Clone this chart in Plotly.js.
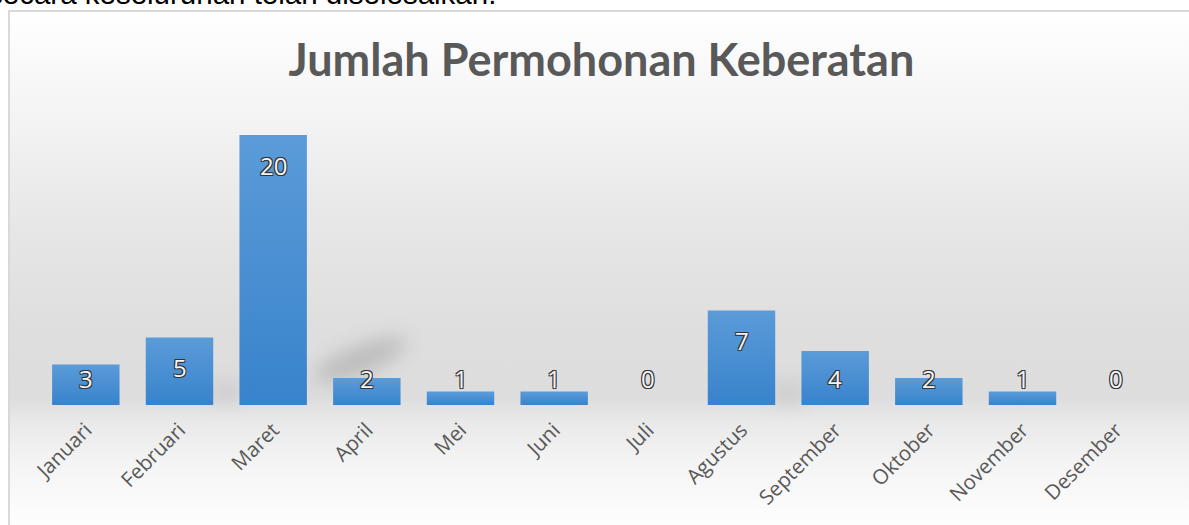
<!DOCTYPE html>
<html>
<head>
<meta charset="utf-8">
<script src="https://cdn.plot.ly/plotly-3.0.1.min.js"></script>
<style>
  html, body { margin: 0; padding: 0; width: 1189px; height: 525px; overflow: hidden; background: #ffffff; }
  #topText {
    position: absolute; left: -12px; top: -21px; white-space: nowrap;
    font-family: "Liberation Sans", Arial, sans-serif; font-size: 29.5px; line-height: 29px; color: #000;
  }
  #frame {
    position: absolute; left: 8px; top: 10px; width: 1200px; height: 530px;
    box-sizing: border-box; border-top: 2px solid #d9d9d9; border-left: 2px solid #d9d9d9;
    background: linear-gradient(to bottom, #ffffff 0px, #f3f3f3 110px, #e6e6e6 220px, #dedede 320px, #dddddd 385px, #e9e9e9 410px, #f4f4f4 450px, #fcfcfc 500px, #ffffff 530px);
    overflow: hidden;
  }
  .shadow { position: absolute; border-radius: 50%; filter: blur(10px); }
  #chart { position: absolute; left: 0; top: 0; width: 1179px; height: 513px; }
</style>
</head>
<body>
<svg width="0" height="0" style="position:absolute">
  <defs>
    <linearGradient id="barGrad" x1="0" y1="0" x2="0" y2="1">
      <stop offset="0%" stop-color="#5b9bd8"/>
      <stop offset="100%" stop-color="#3883cc"/>
    </linearGradient>
  </defs>
</svg>
<div id="topText">secara keseluruhan telah diselesaikan.</div>
<div id="frame">
  <div class="shadow" style="left:300px; top:335px; width:100px; height:26px; background:rgba(0,0,0,0.16); transform:rotate(-22deg);"></div>
  <div class="shadow" style="left:195px; top:370px; width:40px; height:20px; background:rgba(0,0,0,0.08);"></div>
  <div class="shadow" style="left:758px; top:370px; width:40px; height:22px; background:rgba(0,0,0,0.08);"></div>
  <div id="chart"></div>
</div>
<script>
const months = ["Januari","Februari","Maret","April","Mei","Juni","Juli","Agustus","September","Oktober","November","Desember"];
const counts = [3, 5, 20, 2, 1, 1, 0, 7, 4, 2, 1, 0];
const chartTitle = "Jumlah Permohonan Keberatan";

const labelFont = {
  family: "Open Sans, sans-serif", size: 24, color: "#f4f4f4",
  shadow: "1px 1px 0 #333, -1px -1px 0 #333, 1px -1px 0 #333, -1px 1px 0 #333"
};

const annotations = months.map((m, i) => {
  const v = counts[i];
  const inside = v >= 5;
  return {
    x: m, y: inside ? v : 0, xref: "x", yref: "y",
    text: String(v), showarrow: false,
    yanchor: "middle", yshift: inside ? -30 : 27,
    font: labelFont
  };
});

const trace = {
  type: "bar", x: months, y: counts,
  marker: { color: "#4a8fd3", line: { width: 0 } },
  hoverinfo: "x+y"
};

const layout = {
  width: 1179, height: 513,
  margin: { l: 29, r: 26, t: 123, b: 120, pad: 0 },
  paper_bgcolor: "rgba(0,0,0,0)", plot_bgcolor: "rgba(0,0,0,0)",
  bargap: 0.28,
  showlegend: false,
  title: {
    text: "<b>" + chartTitle + "</b>",
    x: 0.5004, xref: "paper", xanchor: "center",
    y: 0.906, yref: "container", yanchor: "middle",
    font: { family: "Lato, Open Sans, sans-serif", size: 45, color: "#595959" }
  },
  xaxis: {
    type: "category", tickangle: -45,
    showgrid: false, zeroline: false, showline: false, ticks: "",
    ticklabelstandoff: 8,
    tickfont: { family: "Open Sans, sans-serif", size: 20.5, color: "#595959" },
    automargin: false
  },
  yaxis: {
    range: [0, 20], showgrid: false, zeroline: false, showline: false,
    showticklabels: false, ticks: "", automargin: false
  },
  annotations: annotations
};

Plotly.newPlot("chart", [trace], layout, { displayModeBar: false, staticPlot: true }).then(gd => {
  gd.querySelectorAll(".barlayer .point path").forEach(p => { p.style.fill = "url(#barGrad)"; });
});
</script>
</body>
</html>
